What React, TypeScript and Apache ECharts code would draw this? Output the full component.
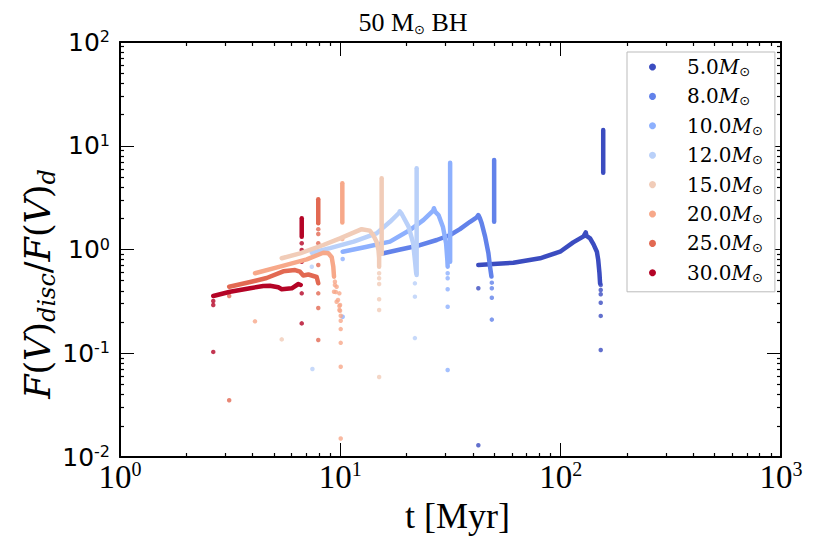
import React, { useEffect, useRef } from "react";
import * as echarts from "echarts";

// ---------- categories / ticks ----------
const masses = ["5.0", "8.0", "10.0", "12.0", "15.0", "20.0", "25.0", "30.0"];
const colors = ["#3b4cc0", "#6282ea", "#8db0fe", "#b9d0f9", "#f1ccb8", "#f7a889", "#e26952", "#b40426"];

const xMajor = [1, 10, 100, 1000];
const yMajor = [0.01, 0.1, 1, 10, 100];
const xMinor = [2, 3, 4, 5, 6, 7, 8, 9, 20, 30, 40, 50, 60, 70, 80, 90, 200, 300, 400, 500, 600, 700, 800, 900];
const yMinor = [
  0.02, 0.03, 0.04, 0.05, 0.06, 0.07, 0.08, 0.09,
  0.2, 0.3, 0.4, 0.5, 0.6, 0.7, 0.8, 0.9,
  2, 3, 4, 5, 6, 7, 8, 9,
  20, 30, 40, 50, 60, 70, 80, 90,
];

// ---------- series values: [t (Myr), F(V)disc/F(V)d] ----------
const curve5 = [[42.3, 0.709], [49.5, 0.725], [61, 0.746], [80.6, 0.823], [99.4, 0.952], [114, 1.17], [127, 1.34], [130, 1.46], [131, 1.35], [136, 1.28], [141, 1.12], [146, 0.952], [148, 0.8], [150, 0.59], [151, 0.47]];
const spike5 = [[156, 5.5], [156, 14.2]];
const dots5 = [[152, 0.455], [152, 0.407], [152, 0.37], [152, 0.307], [152, 0.229], [152, 0.1075], [42.3, 0.423], [42.3, 0.013]];

const curve8 = [[15.7, 0.919], [18.7, 1.0], [22.2, 1.08], [27.4, 1.235], [31.5, 1.38], [34.9, 1.57], [38.8, 1.85], [41.6, 2.04], [42.3, 2.15], [43, 2.0], [43.8, 1.79], [45.4, 1.33], [47.0, 0.919], [47.8, 0.683], [48.5, 0.55]];
const spike8 = [[49.9, 1.85], [49.9, 7.29]];
const dots8 = [[48.7, 0.479], [48.7, 0.423], [48.7, 0.343], [48.7, 0.211]];

const curve10 = [[10.25, 0.952], [13.2, 1.064], [16.8, 1.19], [20.7, 1.54], [23.8, 1.92], [26.4, 2.37], [26.6, 2.5], [27.0, 2.3], [27.9, 2.15], [29.2, 1.66], [30.2, 1.15], [30.6, 0.792], [30.7, 0.683]];
const spike10 = [[31.5, 0.763], [31.5, 6.87]];
const dots10 = [[30.7, 0.59], [30.7, 0.528], [30.7, 0.414], [30.7, 0.281], [30.7, 0.069], [10.25, 0.81], [10.25, 0.225]];

const curve12 = [[7.42, 0.931], [8.98, 1.03], [11.5, 1.19], [14.6, 1.43], [16.8, 1.85], [18.5, 2.26], [18.6, 2.33], [19.0, 2.2], [19.3, 2.07], [20.4, 1.66], [21.4, 1.15], [21.8, 0.792], [22.1, 0.59]];
const spike12 = [[22.2, 0.568], [22.2, 6.06]];
const dots12 = [[21.8, 0.472], [21.8, 0.351], [21.8, 0.14], [7.42, 0.683], [7.47, 0.0705]];

const curve15 = [[5.42, 0.823], [6.56, 0.919], [8.37, 1.105], [9.97, 1.28], [12.5, 1.57], [13.6, 1.52], [14.1, 1.38], [14.6, 1.19], [14.9, 0.99], [15.0, 0.828], [15.0, 0.683]];
const spike15 = [[15.4, 0.905], [15.4, 4.86]];
const dots15 = [[15.0, 0.59], [15.0, 0.528], [15.0, 0.465], [15.0, 0.331], [15.0, 0.261], [15.0, 0.059], [5.42, 0.136]];

const curve20 = [[4.1, 0.59], [5.32, 0.683], [7.04, 0.804], [8.37, 0.931], [8.82, 0.919], [9.14, 0.841], [9.29, 0.683], [9.36, 0.547]];
const spike20 = [[10.21, 1.82], [10.21, 4.35]];
const dots20 = [[9.45, 0.49], [9.62, 0.438], [9.36, 0.392], [9.9, 0.378], [9.62, 0.314], [9.97, 0.292], [9.9, 0.261], [9.45, 0.455], [9.54, 0.389], [9.76, 0.326], [9.9, 0.285], [9.97, 0.257], [10.04, 0.23], [10.04, 0.206], [10.04, 0.171], [10.04, 0.126], [10.04, 0.0742], [10.04, 0.0151], [10.21, 1.26], [4.1, 0.203]];

const curve25 = [[3.13, 0.438], [3.9, 0.486], [4.63, 0.531], [5.51, 0.616], [6.23, 0.634], [6.56, 0.611], [6.79, 0.562], [7.16, 0.574], [7.81, 0.543], [7.94, 0.472]];
const spike25 = [[7.94, 1.79], [7.94, 3.05]];
const dots25 = [[7.94, 1.57], [7.94, 1.41], [7.94, 1.15], [7.94, 0.71], [7.94, 0.378], [7.94, 0.273], [7.94, 0.134], [3.13, 0.356], [3.13, 0.0352]];

const curve30 = [[2.65, 0.356], [3.16, 0.392], [3.89, 0.423], [4.47, 0.445], [4.79, 0.448], [5.23, 0.432], [5.42, 0.414], [6.02, 0.423], [6.45, 0.465], [6.61, 0.455]];
const spike30 = [[6.68, 1.33], [6.68, 2.0]];
const dots30 = [[6.68, 1.15], [6.68, 0.99], [6.68, 0.763], [6.68, 0.378], [6.68, 0.194], [2.65, 0.319], [2.65, 0.292], [2.65, 0.103]];

const curves = [curve5, curve8, curve10, curve12, curve15, curve20, curve25, curve30];
const spikes = [spike5, spike8, spike10, spike12, spike15, spike20, spike25, spike30];
const dots = [dots5, dots8, dots10, dots12, dots15, dots20, dots25, dots30];

function powLabel(v: number) {
  const e = Math.round(Math.log10(v));
  return `{b|10}{s|${e}}`;
}

export default function App() {
  const ref = useRef<HTMLDivElement>(null);

  useEffect(() => {
    document.body.style.margin = "0";
    if (!ref.current) return;
    const chart = echarts.init(ref.current, null, { renderer: "svg" });

    const gridBox = { left: 120, top: 42, width: 661, height: 415, outerBoundsMode: "none", containLabel: false };

    const majorTick = (vals: number[]) => ({
      show: true,
      inside: true,
      length: 14,
      customValues: vals,
      lineStyle: { color: "#000", width: 1 },
    });
    const minorTick = (vals: number[]) => ({
      show: true,
      inside: true,
      length: 4,
      customValues: vals,
      lineStyle: { color: "#000", width: 1.2 },
    });
    const frameLine = { show: true, onZero: false, lineStyle: { color: "#000", width: 2 } };

    const xBase = { type: "log", logBase: 10, min: 1, max: 1000, splitLine: { show: false } };
    const yBase = { type: "log", logBase: 10, min: 0.01, max: 100, splitLine: { show: false } };

    const xAxis = [
      {
        ...xBase, gridIndex: 0, position: "bottom",
        axisLine: frameLine, axisTick: majorTick(xMajor),
        axisLabel: {
          show: true, customValues: xMajor, margin: 2, formatter: powLabel,
          rich: {
            b: { fontFamily: "Liberation Serif", fontSize: 33, lineHeight: 35, color: "#000" },
            s: { fontFamily: "Liberation Serif", fontSize: 20, lineHeight: 20, verticalAlign: "top", color: "#000" },
          },
        },
        name: "t [Myr]", nameLocation: "middle", nameGap: 34,
        nameTextStyle: { fontFamily: "Liberation Serif", fontSize: 36, color: "#000", padding: [0, 0, 0, 14] },
      },
      { ...xBase, gridIndex: 0, position: "top", axisLine: frameLine, axisTick: majorTick(xMajor), axisLabel: { show: false } },
      { ...xBase, gridIndex: 1, position: "bottom", axisLine: { show: false }, axisTick: minorTick(xMinor), axisLabel: { show: false } },
      { ...xBase, gridIndex: 1, position: "top", axisLine: { show: false }, axisTick: minorTick(xMinor), axisLabel: { show: false } },
    ];
    const yAxis = [
      {
        ...yBase, gridIndex: 0, position: "left",
        axisLine: frameLine, axisTick: majorTick(yMajor),
        axisLabel: {
          show: true, customValues: yMajor, margin: 10, formatter: powLabel,
          rich: {
            b: { fontFamily: "DejaVu Sans", fontSize: 25, lineHeight: 27, color: "#000" },
            s: { fontFamily: "DejaVu Sans", fontSize: 16, lineHeight: 16, verticalAlign: "top", color: "#000" },
          },
        },
      },
      { ...yBase, gridIndex: 0, position: "right", axisLine: frameLine, axisTick: majorTick(yMajor), axisLabel: { show: false } },
      { ...yBase, gridIndex: 1, position: "left", axisLine: { show: false }, axisTick: minorTick(yMinor), axisLabel: { show: false } },
      { ...yBase, gridIndex: 1, position: "right", axisLine: { show: false }, axisTick: minorTick(yMinor), axisLabel: { show: false } },
    ];

    const series: any[] = [];
    masses.forEach((m, i) => {
      const c = colors[i];
      const lineCommon = {
        type: "line", name: m, xAxisIndex: 0, yAxisIndex: 0,
        showSymbol: false, symbol: "circle", silent: true,
        emphasis: { disabled: true },
        itemStyle: { color: c },
        lineStyle: { color: c, width: 4.5, cap: "round", join: "round" },
      };
      series.push({ ...lineCommon, data: curves[i] });
      series.push({ ...lineCommon, data: spikes[i] });
      series.push({
        type: "scatter", name: m, xAxisIndex: 0, yAxisIndex: 0, silent: true,
        emphasis: { disabled: true },
        symbol: "circle", symbolSize: 4.5, itemStyle: { color: c }, data: dots[i],
      });
    });

    const option: any = {
      animation: false,
      backgroundColor: "#fff",
      grid: [gridBox, gridBox],
      xAxis,
      yAxis,
      legend: {
        show: true,
        orient: "vertical",
        left: 627,
        top: 52,
        selectedMode: false,
        icon: "circle",
        itemWidth: 7,
        itemHeight: 7,
        itemGap: 8.4,
        padding: [5, 12, 8, 22],
        backgroundColor: "#fff",
        borderColor: "#bbbbbb",
        borderWidth: 1,
        borderRadius: 0,
        data: masses.map((m, i) => ({ name: m, itemStyle: { color: colors[i] } })),
        formatter: (name: string) => `{n|${name}}{m|M}{o|⊙}`,
        textStyle: {
          rich: {
            n: { fontFamily: "DejaVu Serif", fontSize: 20, lineHeight: 22, padding: [0, 0, 0, 26], color: "#000" },
            m: { fontFamily: "DejaVu Serif", fontStyle: "italic", fontSize: 20, lineHeight: 22, color: "#000" },
            o: { fontFamily: "DejaVu Sans", fontSize: 13, lineHeight: 13, verticalAlign: "bottom", color: "#000" },
          },
        },
      },
      graphic: [
        {
          type: "text",
          x: 413,
          y: 22,
          style: {
            text: "{a|50 M}{o|⊙}{a| BH}",
            align: "center",
            verticalAlign: "middle",
            rich: {
              a: { fontFamily: "Liberation Serif", fontSize: 26, lineHeight: 28, fill: "#000" },
              o: { fontFamily: "DejaVu Sans", fontSize: 13, lineHeight: 13, verticalAlign: "bottom", fill: "#000" },
            },
          },
        },
        {
          type: "text",
          x: 38,
          y: 284,
          rotation: Math.PI / 2,
          style: {
            text: "{i|F}{n|(}{i|V}{n|)}{s|disc}{n|/}{i|F}{n|(}{i|V}{n|)}{s|d}",
            align: "center",
            verticalAlign: "middle",
            rich: {
              i: { fontFamily: "DejaVu Serif", fontStyle: "italic", fontSize: 35, lineHeight: 42, fill: "#000" },
              n: { fontFamily: "DejaVu Serif", fontSize: 35, lineHeight: 42, fill: "#000" },
              s: { fontFamily: "DejaVu Serif", fontStyle: "italic", fontSize: 24, lineHeight: 24, verticalAlign: "bottom", fill: "#000" },
            },
          },
        },
      ],
      series,
    };

    chart.setOption(option);
    return () => {
      chart.dispose();
    };
  }, []);

  return (
    <div
      ref={ref}
      style={{ position: "absolute", left: 0, top: 0, width: 830, height: 554, background: "#fff" }}
    />
  );
}
